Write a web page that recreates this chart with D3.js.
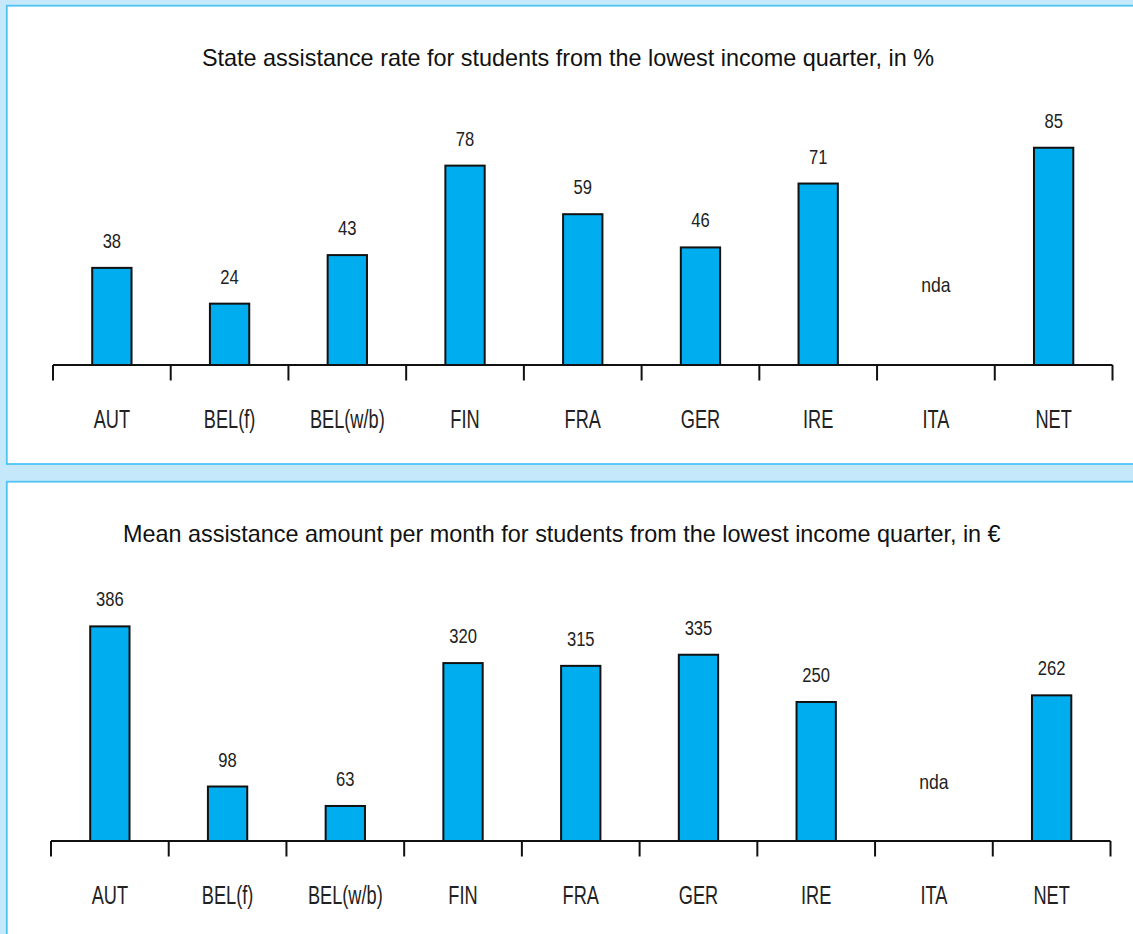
<!DOCTYPE html>
<html>
<head>
<meta charset="utf-8">
<script src="https://cdn.jsdelivr.net/npm/d3@7/dist/d3.min.js"></script>
<style>
  html, body { margin: 0; padding: 0; background: #c5e9fa; }
  svg { display: block; }
</style>
</head>
<body>
<svg id="chart" width="1133" height="934"></svg>
<script>
// ---- data ----
const categories = ["AUT", "BEL(f)", "BEL(w/b)", "FIN", "FRA", "GER", "IRE", "ITA", "NET"];
const rateValues = [38, 24, 43, 78, 59, 46, 71, null, 85];
const amountValues = [386, 98, 63, 320, 315, 335, 250, null, 262];
const titles = [
  "State assistance rate for students from the lowest income quarter, in %",
  "Mean assistance amount per month for students from the lowest income quarter, in \u20AC"
];
const missingLabel = "nda";

// ---- layout ----
const svg = d3.select("#chart");
const panels = [
  { top: 5.7, height: 458.3, values: rateValues, max: 100, pxPerUnit: 2.556,
    x0: 53, x1: 1112.5, base: 365, titleX: 202, title: titles[0], ndaUp: 73 },
  { top: 481.7, height: 500, values: amountValues, max: 400, pxPerUnit: 0.556,
    x0: 51, x1: 1110.5, base: 841, titleX: 123, title: titles[1], ndaUp: 52 }
];

const textColor = "#222";
const labelFont = "'Liberation Sans', Arial, sans-serif";

panels.forEach(p => {
  const off = p.top - 5.7;
  const g = svg.append("g");

  g.append("rect")
    .attr("x", 6.8).attr("y", p.top)
    .attr("width", 1200).attr("height", p.height)
    .attr("fill", "#fff")
    .attr("stroke", "#4fc4f4").attr("stroke-width", 1.8);

  g.append("text")
    .attr("x", p.titleX).attr("y", 66 + off)
    .attr("font-family", labelFont)
    .attr("font-size", 23.4)
    .attr("fill", "#111")
    .text(p.title);

  const x = d3.scaleBand().domain(categories).range([p.x0, p.x1]).paddingInner(0).paddingOuter(0);
  const y = d3.scaleLinear().domain([0, p.max]).range([p.base, p.base - p.max * p.pxPerUnit]);
  const bw = x.bandwidth() * 0.334;

  const data = categories.map((c, i) => ({ c, v: p.values[i] }));

  // bars
  g.selectAll("rect.bar")
    .data(data.filter(d => d.v != null))
    .join("rect")
    .attr("class", "bar")
    .attr("x", d => x(d.c) + x.bandwidth() / 2 - bw / 2)
    .attr("y", d => y(d.v))
    .attr("width", bw)
    .attr("height", d => y(0) - y(d.v))
    .attr("fill", "#00aeef")
    .attr("stroke", "#111")
    .attr("stroke-width", 2);

  // value labels
  g.selectAll("g.val")
    .data(data)
    .join("g")
    .attr("class", "val")
    .attr("transform", d => d.v != null
      ? `translate(${x(d.c) + x.bandwidth() / 2},${y(d.v) - 20}) scale(0.79,1)`
      : `translate(${x(d.c) + x.bandwidth() / 2},${p.base - p.ndaUp}) scale(0.88,1)`)
    .append("text")
    .attr("text-anchor", "middle")
    .attr("font-family", labelFont)
    .attr("font-size", d => d.v != null ? 21 : 20)
    .attr("fill", textColor)
    .text(d => d.v != null ? d.v : missingLabel);

  // axis line
  g.append("line")
    .attr("x1", p.x0).attr("x2", p.x1)
    .attr("y1", y(0)).attr("y2", y(0))
    .attr("stroke", "#111").attr("stroke-width", 2);

  // ticks at band boundaries
  const bounds = categories.map(c => x(c)).concat([p.x1]);
  g.selectAll("line.tick")
    .data(bounds)
    .join("line")
    .attr("class", "tick")
    .attr("x1", d => d).attr("x2", d => d)
    .attr("y1", y(0)).attr("y2", y(0) + 15.5)
    .attr("stroke", "#111").attr("stroke-width", 2);

  // category labels
  g.selectAll("g.cat")
    .data(categories)
    .join("g")
    .attr("class", "cat")
    .attr("transform", c => `translate(${x(c) + x.bandwidth() / 2},${p.base + 62.5}) scale(0.7,1)`)
    .append("text")
    .attr("text-anchor", "middle")
    .attr("font-family", labelFont)
    .attr("font-size", 26)
    .attr("fill", textColor)
    .text(c => c);
});
</script>
</body>
</html>
